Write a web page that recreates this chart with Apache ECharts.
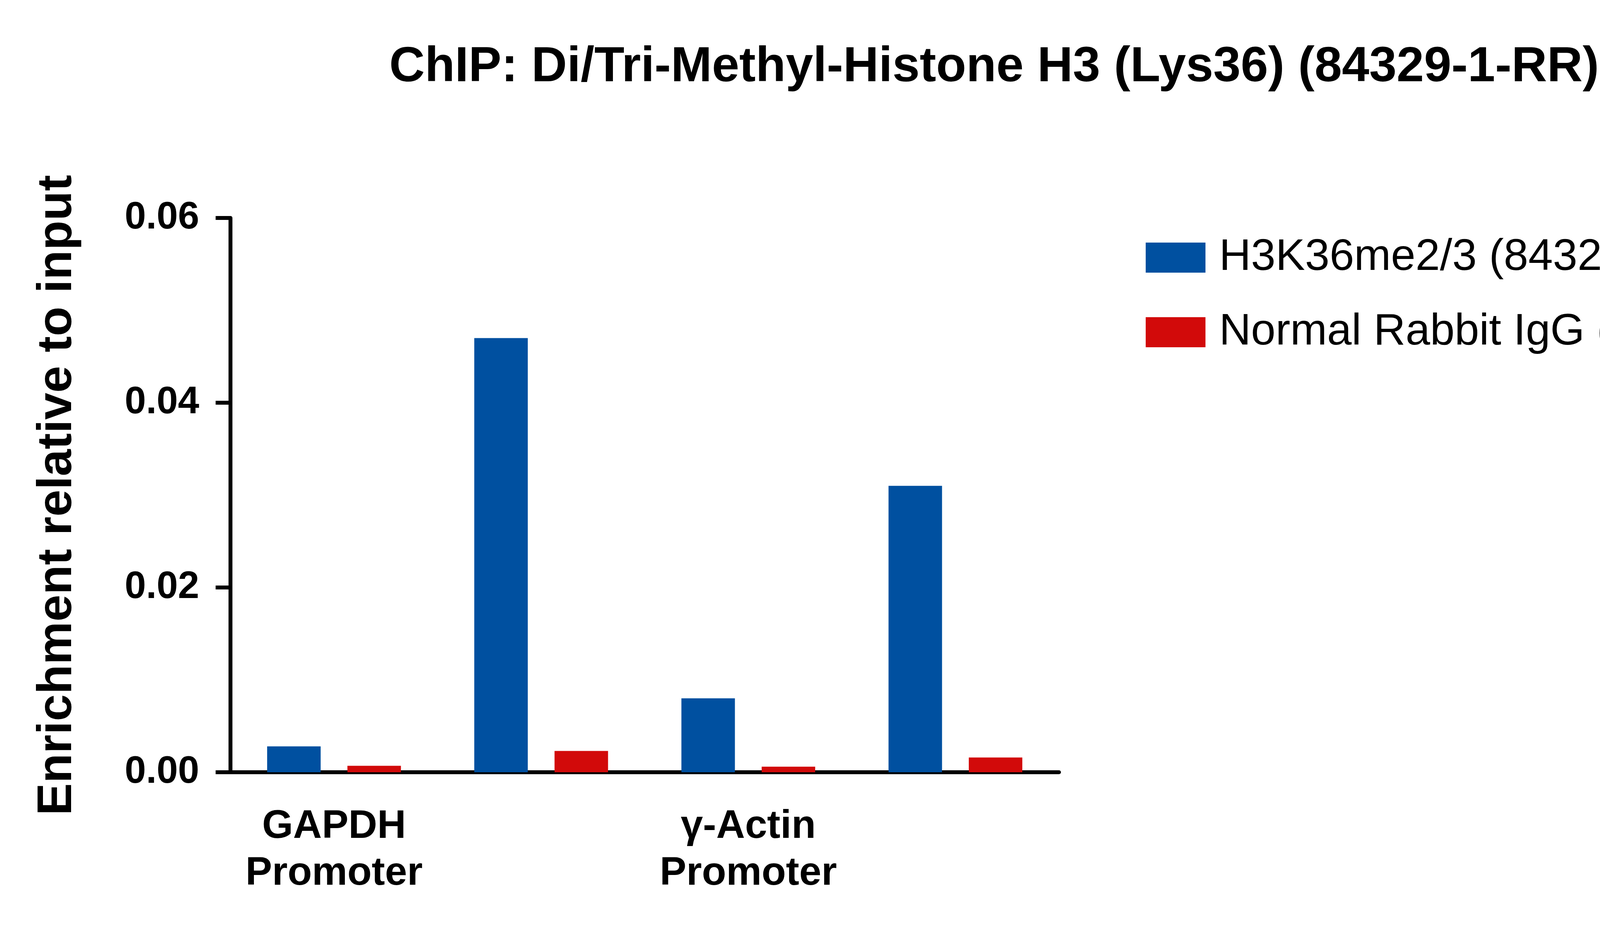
<!DOCTYPE html>
<html>
<head>
<meta charset="utf-8">
<script src="https://cdn.jsdelivr.net/npm/echarts@6/dist/echarts.min.js"></script>
<style>html,body{margin:0;padding:0;background:#fff}#chart{width:5000px;height:2386px}</style>
</head>
<body>
<div id="chart"></div>
<script>
const categories = ['GAPDH\nPromoter', 'GAPDH\nIntron 2', 'γ-Actin\nPromoter', 'γ-Actin\nIntron 3'];
const h3k36 = [0.0028, 0.047, 0.008, 0.031];
const igg = [0.0007, 0.0023, 0.0006, 0.0016];
const seriesNames = ['H3K36me2/3 (84329-1-RR)', 'Normal Rabbit IgG (98136-1-RR)'];

const font = 'Liberation Sans, Arial, sans-serif';
const chart = echarts.init(document.getElementById('chart'));
chart.setOption({
  backgroundColor: '#fff',
  animation: false,
  title: {
    text: 'ChIP: Di/Tri-Methyl-Histone H3 (Lys36) (84329-1-RR)',
    left: 2540, textAlign: 'center', top: 105,
    textStyle: { fontFamily: font, fontSize: 126, fontWeight: 'bold', color: '#000' }
  },
  legend: {
    left: 2928, top: 598, orient: 'vertical',
    itemWidth: 153, itemHeight: 77, itemGap: 78,
    icon: 'rect',
    textStyle: { fontFamily: font, fontSize: 113, color: '#000', padding: [0, 0, 0, 30] }
  },
  grid: { left: 590, right: 2289, top: 558, bottom: 409 },
  xAxis: {
    type: 'category', data: categories,
    axisLine: { lineStyle: { color: '#000', width: 10 } },
    axisTick: { alignWithLabel: true, length: 38, lineStyle: { color: '#000', width: 10 } },
    axisLabel: { fontFamily: font, fontSize: 102, fontWeight: 'bold', color: '#000', margin: 80, lineHeight: 120 }
  },
  yAxis: {
    type: 'value', min: 0, max: 0.06, interval: 0.02,
    name: 'Enrichment relative to input', nameLocation: 'middle', nameGap: 380,
    nameTextStyle: { fontFamily: font, fontSize: 124, fontWeight: 'bold', color: '#000' },
    axisLine: { show: true, lineStyle: { color: '#000', width: 10 } },
    axisTick: { show: true, length: 38, lineStyle: { color: '#000', width: 10 } },
    splitLine: { show: false },
    axisLabel: { fontFamily: font, fontSize: 98, fontWeight: 'bold', color: '#000', margin: 80,
      formatter: v => v.toFixed(2) }
  },
  series: [
    { name: seriesNames[0], type: 'bar', data: h3k36, barWidth: 137, barGap: '50%', itemStyle: { color: '#0050A0' } },
    { name: seriesNames[1], type: 'bar', data: igg, barWidth: 137, itemStyle: { color: '#D20A0A' } }
  ]
});
</script>
</body>
</html>
